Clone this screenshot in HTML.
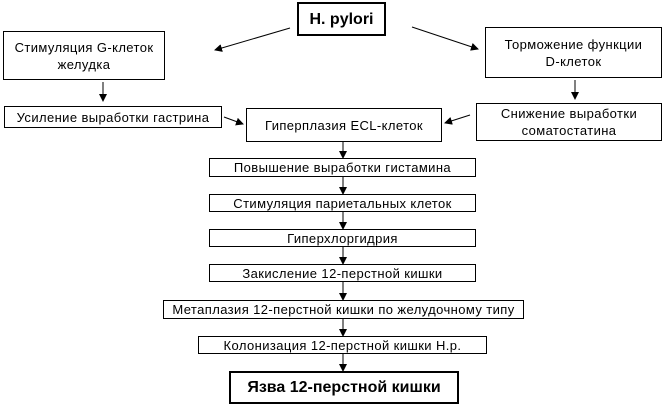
<!DOCTYPE html>
<html><head><meta charset="utf-8"><style>
body{margin:0;width:664px;height:404px;background:#fff;position:relative;overflow:hidden;font-family:"Liberation Sans",sans-serif;color:#000}
.b{position:absolute;box-sizing:border-box;border:1px solid #000;display:flex;align-items:center;justify-content:center;text-align:center;font-size:13px;line-height:17px;background:#fff;letter-spacing:0.4px;white-space:nowrap}
.k{border:2px solid #000;font-weight:bold;font-size:16px;letter-spacing:0}
svg{position:absolute;left:0;top:0}
</style></head><body>
<svg width="664" height="404">
<defs><marker id="a" markerWidth="8" markerHeight="8" refX="7" refY="4" orient="auto" markerUnits="userSpaceOnUse"><path d="M0,0 L8,4 L0,8 z" fill="#000"/></marker></defs>
<g stroke="#000" stroke-width="1" marker-end="url(#a)">
<line x1="290" y1="28" x2="215" y2="50"/>
<line x1="412" y1="27" x2="478" y2="49"/>
<line x1="103" y1="82" x2="103" y2="101"/>
<line x1="575" y1="80" x2="575" y2="99"/>
<line x1="224" y1="117" x2="243" y2="124"/>
<line x1="470" y1="115" x2="445" y2="123"/>
<line x1="343" y1="141" x2="343" y2="158"/>
<line x1="343" y1="177" x2="343" y2="194"/>
<line x1="343" y1="212" x2="343" y2="229"/>
<line x1="343" y1="247" x2="343" y2="264"/>
<line x1="343" y1="282" x2="343" y2="300"/>
<line x1="343" y1="319" x2="343" y2="336"/>
<line x1="343" y1="354" x2="343" y2="371"/>
</g></svg>
<div class="b k" style="left:297px;top:2px;width:89px;height:34px">H. pylori</div>
<div class="b" style="left:3px;top:31px;width:162px;height:49px">Стимуляция G-клеток<br>желудка</div>
<div class="b" style="left:485px;top:27px;width:177px;height:51px">Торможение функции<br>D-клеток</div>
<div class="b" style="left:4px;top:106px;width:218px;height:22px">Усиление выработки гастрина</div>
<div class="b" style="left:246px;top:108px;width:196px;height:34px">Гиперплазия ECL-клеток</div>
<div class="b" style="left:476px;top:103px;width:186px;height:38px">Снижение выработки<br>соматостатина</div>
<div class="b" style="left:209px;top:158px;width:267px;height:19px">Повышение выработки гистамина</div>
<div class="b" style="left:209px;top:194px;width:267px;height:18px">Стимуляция париетальных клеток</div>
<div class="b" style="left:209px;top:229px;width:267px;height:18px">Гиперхлоргидрия</div>
<div class="b" style="left:209px;top:264px;width:267px;height:18px">Закисление 12-перстной кишки</div>
<div class="b" style="left:163px;top:300px;width:361px;height:19px">Метаплазия 12-перстной кишки по желудочному типу</div>
<div class="b" style="left:198px;top:336px;width:289px;height:18px">Колонизация 12-перстной кишки H.p.</div>
<div class="b k" style="left:229px;top:371px;width:230px;height:33px">Язва 12-перстной кишки</div>
</body></html>
